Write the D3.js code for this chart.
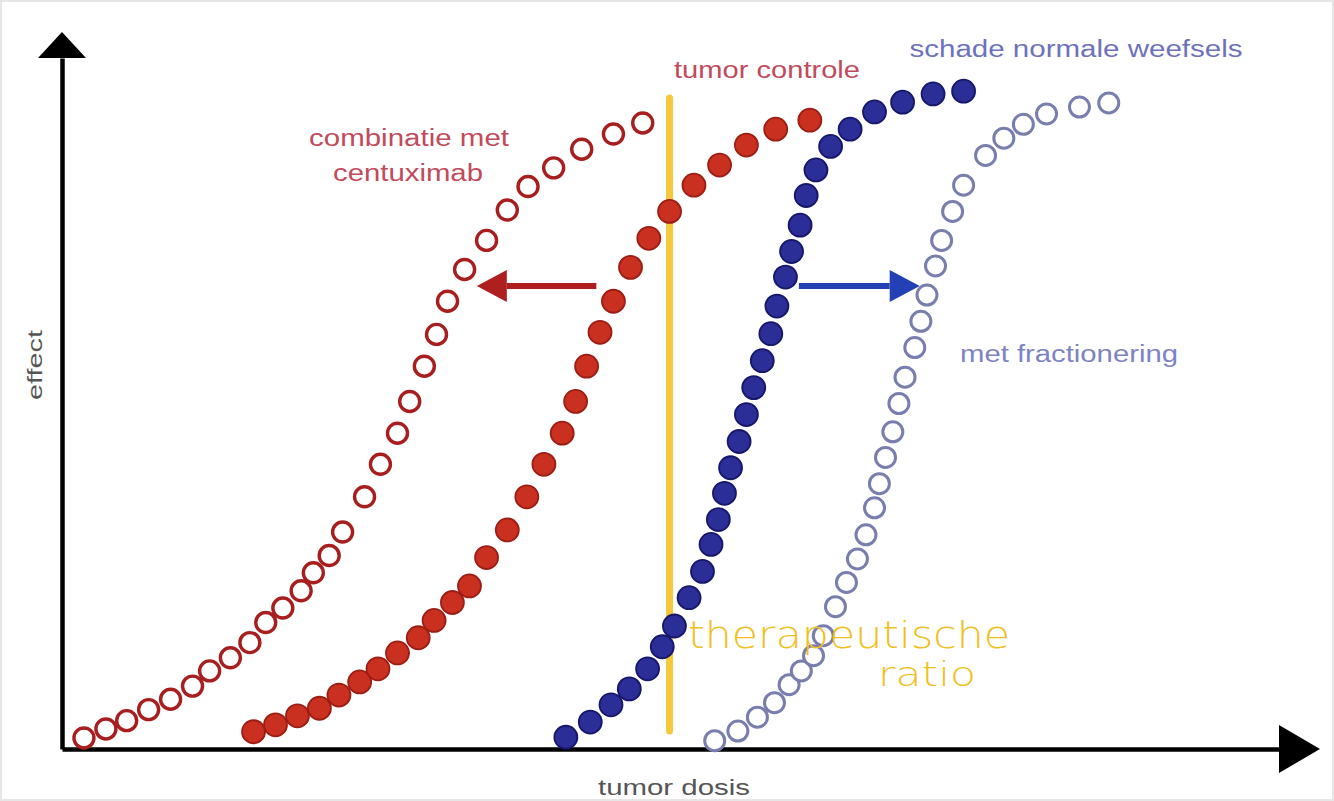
<!DOCTYPE html>
<html>
<head>
<meta charset="utf-8">
<script src="https://cdn.jsdelivr.net/npm/d3@7"></script>
<style>
  body { margin: 0; background: #fff; }
  svg { display: block; }
</style>
</head>
<body>
<div id="chart"></div>
<script>
// dose (0-100) / effect (0-100)
const combiDose   = [1.8, 3.6, 5.3, 7.1, 8.9, 10.7, 12.1, 13.8, 15.4, 16.7, 18.1, 19.6, 20.6, 21.9, 23.0, 24.8, 26.1, 27.5, 28.5, 29.7, 30.7, 31.6, 33.0, 34.8, 36.5, 38.2, 40.3, 42.6, 45.2, 47.6];
const combiEffect = [1.6, 2.9, 4.1, 5.7, 7.2, 9.1, 11.3, 13.2, 15.4, 18.3, 20.4, 22.9, 25.5, 28.0, 31.4, 36.5, 41.2, 45.7, 50.3, 55.4, 60.0, 64.8, 69.4, 73.6, 78.0, 81.4, 84.1, 86.8, 89.0, 90.6];

const tumorDose   = [15.7, 17.5, 19.3, 21.1, 22.7, 24.4, 25.9, 27.5, 29.2, 30.5, 32.0, 33.4, 34.8, 36.5, 38.1, 39.5, 41.0, 42.1, 43.0, 44.1, 45.2, 46.6, 48.1, 49.8, 51.8, 53.9, 56.1, 58.5, 61.3];
const tumorEffect = [2.5, 3.5, 4.8, 5.9, 7.8, 9.7, 11.6, 13.9, 16.1, 18.6, 21.2, 23.6, 27.7, 31.7, 36.5, 41.2, 45.7, 50.3, 55.4, 60.3, 64.8, 69.7, 73.9, 77.8, 81.6, 84.5, 87.4, 89.7, 91.0];

const normalDose   = [41.3, 43.3, 45.0, 46.5, 48.0, 49.2, 50.2, 51.4, 52.5, 53.2, 53.8, 54.3, 54.8, 55.5, 56.1, 56.7, 57.4, 58.1, 58.6, 59.3, 59.8, 60.5, 61.0, 61.8, 63.0, 64.6, 66.6, 68.9, 71.4, 73.9];
const normalEffect = [1.7, 3.9, 6.4, 8.7, 11.6, 14.8, 17.8, 21.9, 25.7, 29.6, 33.2, 37.0, 40.7, 44.5, 48.4, 52.3, 56.2, 60.1, 64.1, 68.3, 72.0, 75.8, 80.1, 83.8, 87.2, 89.7, 92.2, 93.6, 94.8, 95.2];

const fracDose   = [53.5, 55.4, 57.0, 58.4, 59.6, 60.6, 61.6, 62.4, 63.4, 64.3, 65.2, 65.9, 66.6, 67.0, 67.5, 68.1, 68.6, 69.1, 69.9, 70.4, 70.9, 71.6, 72.1, 73.0, 73.9, 75.7, 77.2, 78.8, 80.7, 83.4, 85.8];
const fracEffect = [1.2, 2.6, 4.6, 6.7, 9.3, 11.3, 13.5, 16.4, 20.6, 24.1, 27.5, 31.0, 34.9, 38.4, 42.2, 45.9, 50.0, 53.8, 58.1, 61.9, 65.7, 69.9, 73.6, 77.8, 81.6, 85.9, 88.4, 90.4, 91.9, 92.9, 93.5];

// therapeutic window line and shift arrows (dose / effect units)
const ratioDose = 49.8;
const ratioEffect = [2.6, 94.2];
const redArrow = { from: 43.8, to: 34.0, effect: 67.0 };
const blueArrow = { from: 60.4, to: 70.3, effect: 67.0 };

const width = 1334;
const height = 801;

const x = d3.scaleLinear().domain([0, 100]).range([62, 1282]);
const y = d3.scaleLinear().domain([0, 100]).range([749, 58]);

const svg = d3.select('#chart').append('svg')
  .attr('width', width)
  .attr('height', height);

svg.append('rect')
  .attr('x', 0.5).attr('y', 0.5)
  .attr('width', width - 1).attr('height', height - 1)
  .attr('fill', '#fff')
  .attr('stroke', '#e6e6e6')
  .attr('stroke-width', 3);

/* Axes: domain lines only, arrowheads at the ends */
const xAxis = d3.axisBottom(x).tickValues([]).tickSizeOuter(0);
const yAxis = d3.axisLeft(y).tickValues([]).tickSizeOuter(0);

svg.append('g')
  .attr('class', 'xaxis')
  .attr('transform', `translate(0, ${y(0)})`)
  .call(xAxis)
  .select('.domain')
  .attr('stroke', '#000')
  .attr('stroke-width', 4.5);

svg.append('g')
  .attr('class', 'yaxis')
  .attr('transform', `translate(${x(0)}, 0)`)
  .call(yAxis)
  .select('.domain')
  .attr('stroke', '#000')
  .attr('stroke-width', 4.5);

const x1 = x.range()[1];
const y1 = y.range()[1];
svg.append('path')
  .attr('d', `M${x1 - 3},${y(0) - 24} L${x1 + 38},${y(0)} L${x1 - 3},${y(0) + 24} Z`)
  .attr('fill', '#000');
svg.append('path')
  .attr('d', `M${x(0) - 24},${y1} L${x(0)},${y1 - 26} L${x(0) + 24},${y1} Z`)
  .attr('fill', '#000');

/* Axis titles */
svg.append('text')
  .attr('x', 674)
  .attr('y', 795)
  .attr('text-anchor', 'middle')
  .attr('font-family', 'Liberation Sans, Arial, sans-serif')
  .attr('font-size', 22)
  .attr('fill', '#555')
  .attr('textLength', 152)
  .attr('lengthAdjust', 'spacingAndGlyphs')
  .text('tumor dosis');

svg.append('text')
  .attr('transform', 'translate(42, 365) rotate(-90)')
  .attr('text-anchor', 'middle')
  .attr('font-family', 'Liberation Sans, Arial, sans-serif')
  .attr('font-size', 20)
  .attr('fill', '#555')
  .attr('textLength', 70)
  .attr('lengthAdjust', 'spacingAndGlyphs')
  .text('effect');

/* Yellow therapeutic ratio line */
svg.append('line')
  .attr('x1', x(ratioDose)).attr('x2', x(ratioDose))
  .attr('y1', y(ratioEffect[0])).attr('y2', y(ratioEffect[1]))
  .attr('stroke', '#f6c93a')
  .attr('stroke-width', 7)
  .attr('stroke-linecap', 'round');

/* Dot series */
const series = [
  { name: 'combi', dose: combiDose, effect: combiEffect, r: 10, fill: '#fff', stroke: '#a81e1e', sw: 3.4 },
  { name: 'tumor', dose: tumorDose, effect: tumorEffect, r: 11.5, fill: '#c9301f', stroke: '#9c1d14', sw: 1.8 },
  { name: 'normal', dose: normalDose, effect: normalEffect, r: 11.5, fill: '#2c2e98', stroke: '#16176a', sw: 1.8 },
  { name: 'frac', dose: fracDose, effect: fracEffect, r: 10, fill: '#fff', stroke: '#787ead', sw: 3 }
];

const dots = svg.append('g').attr('class', 'dots');
series.forEach(s => {
  dots.append('g')
    .attr('class', 'series-' + s.name)
    .selectAll('circle')
    .data(s.dose.map((d, i) => ({ dose: d, effect: s.effect[i] })))
    .enter()
    .append('circle')
    .attr('cx', d => x(d.dose))
    .attr('cy', d => y(d.effect))
    .attr('r', s.r)
    .attr('fill', s.fill)
    .attr('stroke', s.stroke)
    .attr('stroke-width', s.sw);
});

/* Shift arrows */
function arrow(a, color) {
  const dir = a.to > a.from ? 1 : -1;
  const tip = x(a.to);
  const base = tip - dir * 30;
  const yy = y(a.effect);
  svg.append('line')
    .attr('x1', x(a.from)).attr('x2', base)
    .attr('y1', yy).attr('y2', yy)
    .attr('stroke', color)
    .attr('stroke-width', 6);
  svg.append('path')
    .attr('d', `M${base},${yy - 16} L${tip},${yy} L${base},${yy + 16} Z`)
    .attr('fill', color);
}
arrow(redArrow, '#b01f1f');
arrow(blueArrow, '#2341b4');

/* Curve labels */
const labels = [
  { text: 'combinatie met', x: 409, y: 146, w: 200, color: '#c24a5c' },
  { text: 'centuximab', x: 408, y: 181, w: 150, color: '#c24a5c' },
  { text: 'tumor controle', x: 767, y: 78, w: 186, color: '#c24a5c' },
  { text: 'schade normale weefsels', x: 1076, y: 57, w: 333, color: '#6d72bb' },
  { text: 'met fractionering', x: 1069, y: 362, w: 218, color: '#7d83c4' }
];

svg.append('g')
  .selectAll('text')
  .data(labels)
  .enter()
  .append('text')
  .attr('x', d => d.x)
  .attr('y', d => d.y)
  .attr('text-anchor', 'middle')
  .attr('font-family', 'Liberation Sans, Arial, sans-serif')
  .attr('font-size', 23)
  .attr('fill', d => d.color)
  .attr('textLength', d => d.w)
  .attr('lengthAdjust', 'spacingAndGlyphs')
  .text(d => d.text);

/* Handwritten note */
const note = svg.append('g')
  .attr('font-family', 'DejaVu Sans, sans-serif')
  .attr('font-weight', 200)
  .attr('fill', '#f0bf22');

note.append('text')
  .attr('x', 688)
  .attr('y', 648)
  .attr('font-size', 38)
  .attr('textLength', 322)
  .attr('lengthAdjust', 'spacingAndGlyphs')
  .text('therapeutische');

note.append('text')
  .attr('x', 878)
  .attr('y', 686)
  .attr('font-size', 34)
  .attr('textLength', 98)
  .attr('lengthAdjust', 'spacingAndGlyphs')
  .text('ratio');
</script>
</body>
</html>
